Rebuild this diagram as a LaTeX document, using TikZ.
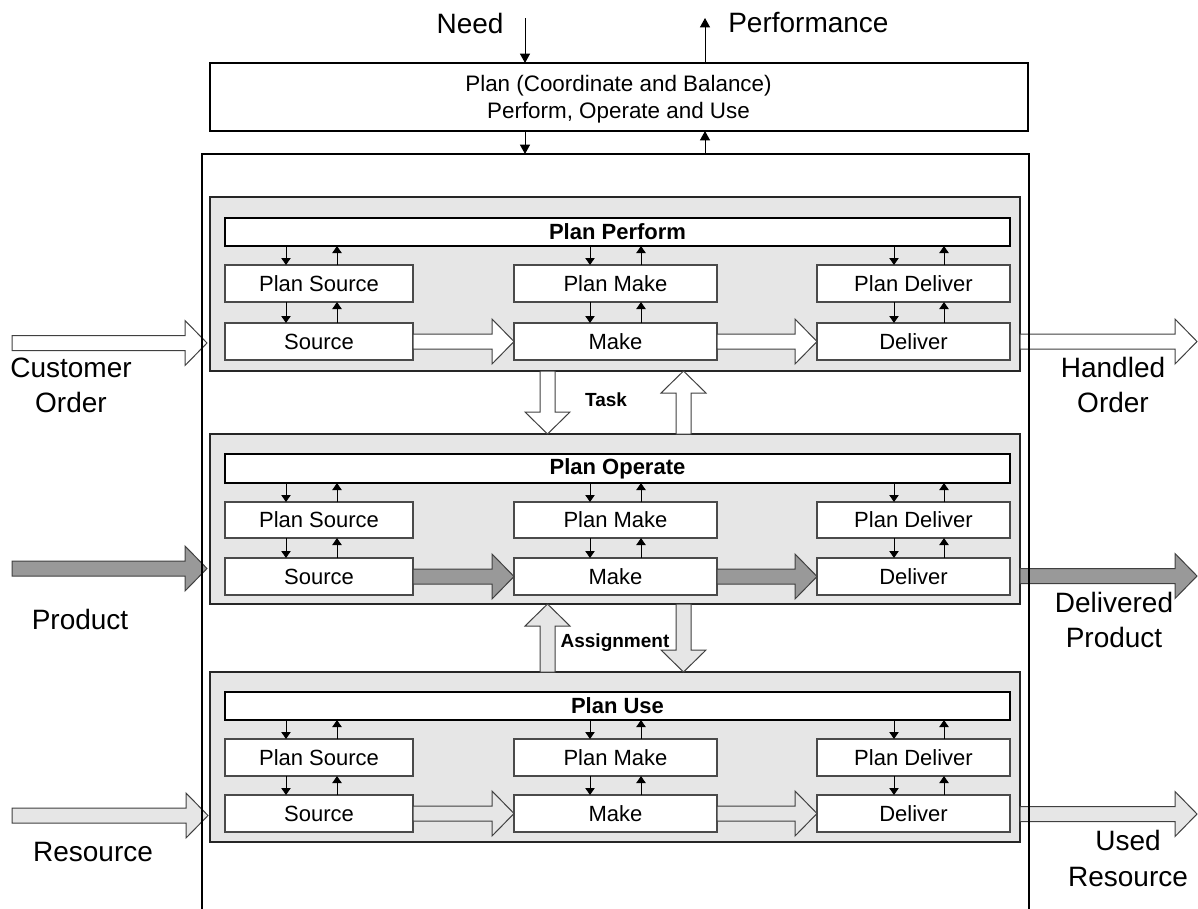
\documentclass[tikz,border=0pt]{standalone}
\usepackage{fontspec}
\setmainfont{Liberation Sans}
\usetikzlibrary{arrows.meta,calc}

\definecolor{panelgray}{HTML}{E6E6E6}
\definecolor{flowdark}{HTML}{999999}
\definecolor{boxedge}{HTML}{4A4A4A}

% rectangle node given by its corners, in pixel units
\newcommand\pxnode[7]{%
  \node[#1, minimum width={(#5-(#3))*0.75pt}, minimum height={(#6-(#4))*0.75pt}]
    (#2) at ({(#3+#5)/2},{(#4+#6)/2}) {#7};}

\tikzset{
  basebox/.style={rectangle, inner sep=0pt, outer sep=0pt, align=center},
  framebox/.style={basebox, draw=black, line width=1.4pt},
  topbox/.style={basebox, draw=black, line width=1.4pt, fill=white},
  toptext/.style={inner sep=0pt, align=center, font=\fontsize{16.8}{20.25}\selectfont},
  panel/.style={basebox, draw=black!85, line width=1.5pt, fill=panelgray},
  bar/.style={basebox, draw=black, line width=1.4pt, fill=white,
    font=\bfseries\fontsize{16.5}{19}\selectfont},
  procbox/.style={basebox, draw=boxedge, line width=0.9pt, fill=white,
    font=\fontsize{16.5}{19}\selectfont},
  flowlabel/.style={inner sep=0pt, align=center, font=\fontsize{21}{26.5}\selectfont},
  linklabel/.style={inner sep=0pt, font=\bfseries\fontsize{14.25}{17}\selectfont},
  ctl/.style={draw=black, line width=0.75pt, -{Triangle[length=5.25pt,width=7pt]}},
  topctl/.style={draw=black, line width=0.75pt, -{Triangle[length=7pt,width=7.5pt]}},
  flow/.style={draw=black!75, line width=0.75pt, line join=miter},
  % block arrows: shaft 15px, head 45px wide and 22px long
  fatright/.style={flow, to path={let \p1=(\tikztostart), \p2=(\tikztotarget) in
    (\x1,\y2+5.625pt) -- (\x2-16.5pt,\y2+5.625pt) -- (\x2-16.5pt,\y2+16.875pt)
    -- (\x2,\y2) -- (\x2-16.5pt,\y2-16.875pt) -- (\x2-16.5pt,\y2-5.625pt)
    -- (\x1,\y2-5.625pt) -- cycle}},
  fatdown/.style={flow, to path={let \p1=(\tikztostart), \p2=(\tikztotarget) in
    (\x1-5.625pt,\y1) -- (\x1-5.625pt,\y2+16.5pt) -- (\x1-16.875pt,\y2+16.5pt)
    -- (\x1,\y2) -- (\x1+16.875pt,\y2+16.5pt) -- (\x1+5.625pt,\y2+16.5pt)
    -- (\x1+5.625pt,\y1) -- cycle}},
  fatup/.style={flow, to path={let \p1=(\tikztostart), \p2=(\tikztotarget) in
    (\x1-5.625pt,\y1) -- (\x1-5.625pt,\y2-16.5pt) -- (\x1-16.875pt,\y2-16.5pt)
    -- (\x1,\y2) -- (\x1+16.875pt,\y2-16.5pt) -- (\x1+5.625pt,\y2-16.5pt)
    -- (\x1+5.625pt,\y1) -- cycle}},
}

\begin{document}
\begin{tikzpicture}[x=0.75pt,y=-0.75pt]
\useasboundingbox (0,0) rectangle (1198,908);

% columns of the small control arrows (down / up)
\coordinate (dS) at (286,0);  \coordinate (uS) at (337,0);
\coordinate (dM) at (590,0);  \coordinate (uM) at (641,0);
\coordinate (dD) at (894,0);  \coordinate (uD) at (944,0);
% columns of the links between the layers
\coordinate (tL) at (547.5,0); \coordinate (tR) at (683.5,0);

% the three layers
\foreach \pn/\tp/\ba/\bb/\pa/\pb/\sa/\sb/\pbot/\ttl/\fl in {
  1/197/218/246/265/302/323/360/371/Plan Perform/white,
  2/434/454/483/502/538/558/595/604/Plan Operate/flowdark,
  3/672/692/720/739/776/795/832/842/Plan Use/panelgray}
{
  \pxnode{panel}{P\pn}{210}{\tp}{1020}{\pbot}{}
  \pxnode{bar}{B\pn}{225}{\ba}{1010}{\bb}{\ttl}
  \pxnode{procbox}{pS\pn}{225}{\pa}{413}{\pb}{Plan Source}
  \pxnode{procbox}{pM\pn}{514}{\pa}{717}{\pb}{Plan Make}
  \pxnode{procbox}{pD\pn}{817}{\pa}{1010}{\pb}{Plan Deliver}
  \pxnode{procbox}{eS\pn}{225}{\sa}{413}{\sb}{Source}
  \pxnode{procbox}{eM\pn}{514}{\sa}{717}{\sb}{Make}
  \pxnode{procbox}{eD\pn}{817}{\sa}{1010}{\sb}{Deliver}
  \foreach \col in {S,M,D} {
    \draw[ctl] (d\col |- B\pn.south) -- (d\col |- p\col\pn.north);
    \draw[ctl] (u\col |- p\col\pn.north) -- (u\col |- B\pn.south);
    \draw[ctl] (d\col |- p\col\pn.south) -- (d\col |- e\col\pn.north);
    \draw[ctl] (u\col |- e\col\pn.north) -- (u\col |- p\col\pn.south);
  }
  \draw[fatright, fill=\fl] (eS\pn.east) to (eM\pn.west);
  \draw[fatright, fill=\fl] (eM\pn.east) to (eD\pn.west);
}

% links between the layers
\draw[fatdown, fill=white] (tL |- P1.south) to (tL |- P2.north);
\draw[fatup, fill=white] (tR |- P2.north) to (tR |- P1.south);
\draw[fatup, fill=panelgray] (tL |- P3.north) to (tL |- P2.south);
\draw[fatdown, fill=panelgray] (tR |- P2.south) to (tR |- P3.north);
\node[linklabel] (lTask) at (606,400) {Task};
\node[linklabel] (lAsg) at (615,643) {Assignment};

% inputs
\coordinate (coTail) at (12,343);   \coordinate (coTip) at (207,343);
\coordinate (prTail) at (12,568.5); \coordinate (prTip) at (207,568.5);
\coordinate (rsTail) at (12,815.5); \coordinate (rsTip) at (208,815.5);
\draw[fatright, fill=white] (coTail) to (coTip);
\draw[fatright, fill=flowdark] (prTail) to (prTip);
\draw[fatright, fill=panelgray] (rsTail) to (rsTip);

% outputs
\coordinate (hoTip) at (1197,341.5);
\coordinate (dpTip) at (1197,576);
\coordinate (urTip) at (1197,814);
\draw[fatright, fill=white] (P1.east |- eD1.east) to (hoTip);
\draw[fatright, fill=flowdark] (P2.east |- eD2.east) to (dpTip);
\draw[fatright, fill=panelgray] (P3.east |- eD3.east) to (urTip);

% flow labels
\node[flowlabel] (lCO) at (71,385.5) {Customer\\Order};
\node[flowlabel] (lPR) at (80,619) {Product};
\node[flowlabel] (lRS) at (93,852) {Resource};
\node[flowlabel] (lHO) at (1113,385) {Handled\\Order};
\node[flowlabel] (lDP) at (1114,620) {Delivered\\Product};
\node[flowlabel] (lUR) at (1128,858.5) {Used\\Resource};

% enclosing frame, open at the bottom edge
\pxnode{framebox}{frame}{202}{154}{1029}{920}{}

% overall planning
\pxnode{topbox}{top}{210}{63}{1028}{131}{}
\node[toptext] (topText) at (618.5,99.5) {Plan (Coordinate and Balance)\\Perform, Operate and Use};
\coordinate (needTail) at (525,18);
\coordinate (perfHead) at (705,18);
\draw[topctl] (needTail) -- (needTail |- top.north);
\draw[topctl] (perfHead |- top.north) -- (perfHead);
\draw[topctl] (needTail |- top.south) -- (needTail |- frame.north);
\draw[topctl] (perfHead |- frame.north) -- (perfHead |- top.south);
\node[flowlabel] (lNeed) at (470,23) {Need};
\node[flowlabel, anchor=west] (lPerf) at (728,23) {Performance};
\end{tikzpicture}
\end{document}
